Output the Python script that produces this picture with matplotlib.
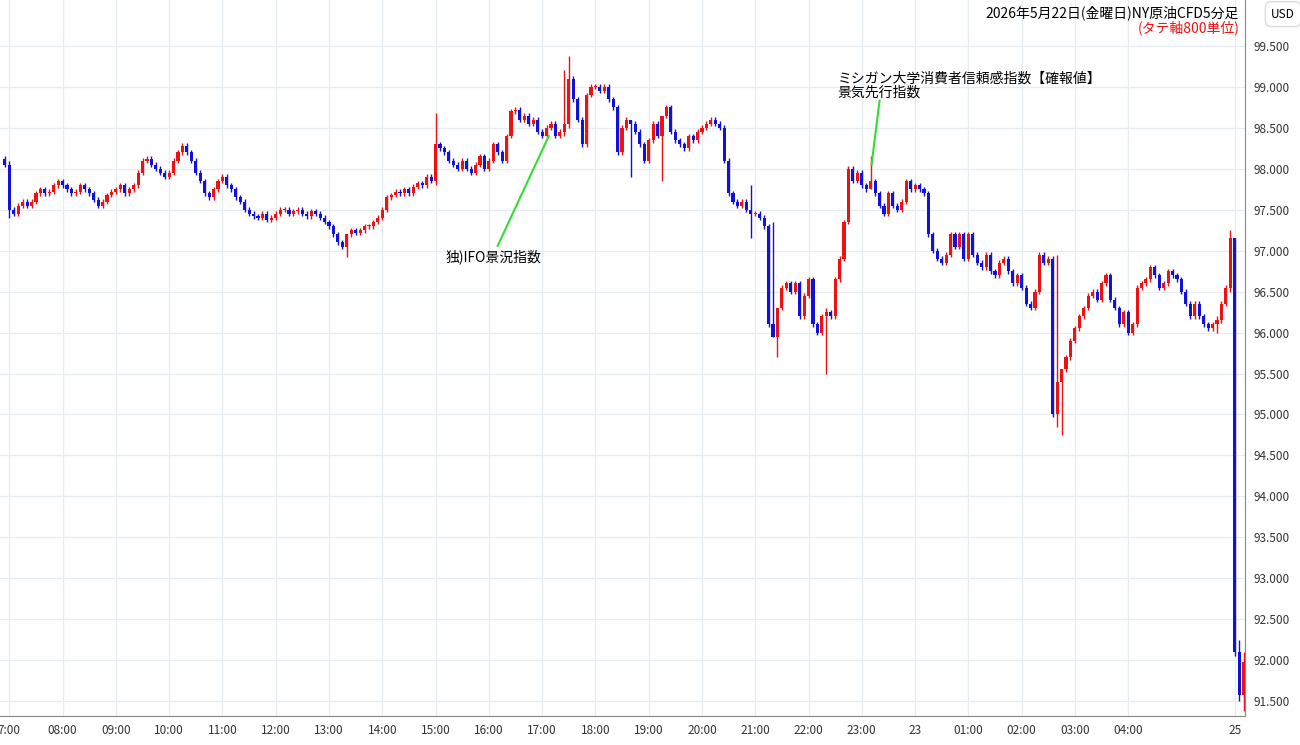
import matplotlib
matplotlib.use("Agg")
import matplotlib.pyplot as plt
import numpy as np

plt.rcParams["font.family"] = ["Noto Sans CJK JP", "DejaVu Sans"]

# ── Data: 5-minute closes, 06:55 Fri → 05:55 Sat, then 3 Monday bars ─────────
FIRST_OPEN = 98.12
CLOSES = [
    98.05,
    # 07:00
    97.50, 97.45, 97.55, 97.60, 97.55, 97.60, 97.70, 97.75, 97.70, 97.72, 97.80, 97.85,
    # 08:00
    97.80, 97.75, 97.70, 97.72, 97.80, 97.75, 97.70, 97.62, 97.55, 97.60, 97.68, 97.72,
    # 09:00
    97.75, 97.80, 97.70, 97.75, 97.80, 97.95, 98.10, 98.12, 98.05, 98.00, 97.95, 97.90,
    # 10:00
    97.95, 98.10, 98.20, 98.28, 98.20, 98.10, 97.95, 97.85, 97.70, 97.65, 97.75, 97.85,
    # 11:00
    97.90, 97.80, 97.75, 97.65, 97.60, 97.50, 97.45, 97.42, 97.40, 97.45, 97.38, 97.40,
    # 12:00
    97.45, 97.50, 97.50, 97.45, 97.48, 97.50, 97.45, 97.42, 97.48, 97.45, 97.40, 97.35,
    # 13:00
    97.30, 97.20, 97.10, 97.05, 97.20, 97.25, 97.22, 97.25, 97.30, 97.30, 97.35, 97.40,
    # 14:00
    97.50, 97.65, 97.68, 97.72, 97.70, 97.75, 97.70, 97.78, 97.82, 97.80, 97.90, 97.85,
    # 15:00
    98.30, 98.25, 98.20, 98.10, 98.05, 98.00, 98.10, 98.00, 97.95, 98.05, 98.15, 98.00,
    # 16:00
    98.10, 98.30, 98.20, 98.10, 98.40, 98.70, 98.72, 98.60, 98.65, 98.55, 98.60, 98.45,
    # 17:00
    98.40, 98.50, 98.55, 98.40, 98.45, 98.55, 99.10, 98.85, 98.60, 98.30, 98.90, 99.00,
    # 18:00
    99.00, 98.95, 99.00, 98.85, 98.75, 98.20, 98.50, 98.60, 98.55, 98.45, 98.30, 98.10,
    # 19:00
    98.35, 98.55, 98.40, 98.65, 98.75, 98.45, 98.35, 98.30, 98.25, 98.40, 98.35, 98.45,
    # 20:00
    98.50, 98.55, 98.60, 98.55, 98.50, 98.10, 97.70, 97.60, 97.55, 97.60, 97.50, 97.45,
    # 21:00
    97.45, 97.40, 97.30, 96.10, 95.95, 96.30, 96.55, 96.60, 96.50, 96.60, 96.20, 96.45,
    # 22:00
    96.65, 96.10, 96.00, 96.20, 96.25, 96.20, 96.65, 96.90, 97.35, 98.00, 97.85, 97.95,
    # 23:00
    97.80, 97.75, 97.85, 97.70, 97.55, 97.45, 97.70, 97.55, 97.50, 97.60, 97.85, 97.75,
    # 00:00
    97.80, 97.75, 97.70, 97.20, 97.00, 96.90, 96.85, 96.95, 97.20, 97.05, 97.20, 96.90,
    # 01:00
    97.20, 96.95, 96.85, 96.80, 96.95, 96.75, 96.70, 96.85, 96.90, 96.75, 96.60, 96.70,
    # 02:00
    96.55, 96.35, 96.30, 96.50, 96.95, 96.85, 96.90, 95.00, 95.40, 95.55, 95.70, 95.90,
    # 03:00
    96.05, 96.20, 96.30, 96.45, 96.50, 96.40, 96.60, 96.70, 96.40, 96.30, 96.10, 96.25,
    # 04:00
    96.00, 96.10, 96.55, 96.60, 96.65, 96.80, 96.70, 96.55, 96.60, 96.75, 96.70, 96.65,
    # 05:00
    96.50, 96.35, 96.20, 96.35, 96.20, 96.10, 96.05, 96.10, 96.15, 96.35, 96.55, 97.15,
    # Monday 25
    92.10, 91.58, 91.98,
]

# notable wick extremes: (bar index, high, low)
WICKS = [
    (1, 98.10, 97.40), (77, 97.12, 96.92), (97, 98.68, 97.80), (127, 99.38, 98.50),
    (126, 99.20, 98.40), (141, 98.60, 97.90), (148, 98.45, 97.85), (168, 97.80, 97.15),
    (173, 97.35, 95.95), (174, 96.30, 95.70), (185, 96.30, 95.50), (195, 98.15, 97.80),
    (237, 96.95, 94.85), (238, 95.40, 94.75), (273, 96.20, 96.00), (276, 97.25, 96.50),
    (277, 97.15, 92.05), (278, 92.25, 91.50), (279, 92.10, 91.38),
]

TICK_IDX    = [1 + 12 * k for k in range(22)] + [277]
TICK_LABELS = ["7:00", "08:00", "09:00", "10:00", "11:00", "12:00", "13:00", "14:00",
               "15:00", "16:00", "17:00", "18:00", "19:00", "20:00", "21:00", "22:00",
               "23:00", "23", "01:00", "02:00", "03:00", "04:00", "25"]
Y_TICKS = [91.5 + 0.5 * k for k in range(17)]

TITLE  = "2026年5月22日(金曜日)NY原油CFD5分足"
SUB    = "(タテ軸800単位)"
NOTE1  = "独)IFO景況指数"
NOTE2  = "ミシガン大学消費者信頼感指数【確報値】\n景気先行指数"

UP, DOWN = "#ee1111", "#1111dd"

# ── Build OHLC ────────────────────────────────────────────────────────────────
close = np.array(CLOSES)
open_ = np.concatenate([[FIRST_OPEN], close[:-1]])
high = np.maximum(open_, close) + 0.03
low  = np.minimum(open_, close) - 0.03
for i, h, l in WICKS:
    high[i] = max(h, open_[i], close[i])
    low[i]  = min(l, open_[i], close[i])
x = np.arange(len(close))
up = close >= open_
colors = np.where(up, UP, DOWN)

fig = plt.figure(figsize=(13, 7.45), dpi=100)
ax = fig.add_axes([0.0, 0.039, 0.958, 0.961])

ax.vlines(x, low, high, colors=colors, linewidth=1.0, zorder=2)
body = np.maximum(np.abs(close - open_), 0.012)
ax.bar(x, body, bottom=np.minimum(open_, close), width=0.7, color=colors,
       linewidth=0, zorder=3)

ax.set_xlim(-1.1, 279.4)
ax.set_ylim(91.32, 100.06)
ax.set_xticks(TICK_IDX)
ax.set_xticklabels(TICK_LABELS, fontsize=8.5, color="#333333")
ax.set_yticks(Y_TICKS)
ax.set_yticklabels([f"{v:.3f}" for v in Y_TICKS], fontsize=8.5, color="#333333")
ax.yaxis.tick_right()
ax.tick_params(length=0, pad=6)
ax.grid(color="#e6edf2", linewidth=0.9, zorder=0)
for s in ["top", "left"]:
    ax.spines[s].set_visible(False)
ax.spines["right"].set_color("#888888")
ax.spines["bottom"].set_color("#888888")

ax.text(0.995, 0.993, TITLE, transform=ax.transAxes, ha="right", va="top", fontsize=10)
ax.text(0.995, 0.972, SUB, transform=ax.transAxes, ha="right", va="top", fontsize=10,
        color="#ee1111")
fig.text(0.987, 0.981, "USD", ha="center", va="center", fontsize=8.5,
         bbox=dict(boxstyle="round,pad=0.5", fc="white", ec="#dddddd"))

# event annotations
ax.plot([111, 122.5], [97.06, 98.4], color="#33dd33", linewidth=1.5, zorder=4)
ax.text(99.2, 96.93, NOTE1, fontsize=10, ha="left", va="center")
ax.plot([197, 195.2], [98.83, 98.05], color="#33dd33", linewidth=1.5, zorder=4)
ax.text(187.5, 98.85, NOTE2, fontsize=10, ha="left", va="bottom", linespacing=1.0)

fig.savefig("out.png", dpi=100)
